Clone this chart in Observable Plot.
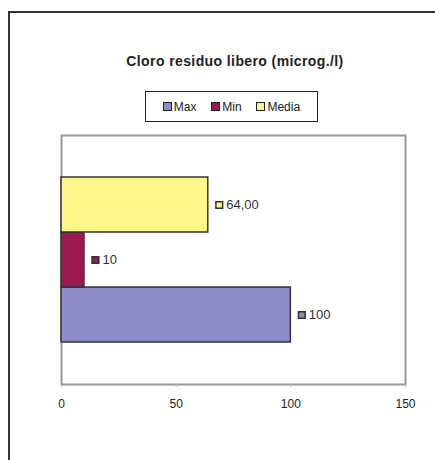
<!DOCTYPE html>
<html>
<head>
<meta charset="utf-8">
<script src="https://cdn.jsdelivr.net/npm/d3@7"></script>
<script src="https://cdn.jsdelivr.net/npm/@observablehq/plot@0.6"></script>
<style>
  html, body { margin: 0; padding: 0; background: #fff; overflow: hidden; }
  body { width: 435px; height: 460px; position: relative; font-family: "Liberation Sans", Arial, sans-serif; }
  #frame { position: absolute; left: 8px; top: 11px; width: 600px; height: 600px;
           border-left: 2px solid #333; border-top: 2px solid #333; box-sizing: border-box; }
  #chart { position: absolute; left: 0; top: 0; }
  #title { position: absolute; left: 0; width: 470px; top: 53px; text-align: center;
           font-weight: bold; font-size: 14px; letter-spacing: 0.4px; color: #222; }
  #legend { position: absolute; left: 145px; top: 91px; width: 173px; height: 31px; box-sizing: border-box;
            border: 1px solid #222; display: flex; align-items: center; justify-content: space-evenly;
            font-size: 12px; color: #222; padding: 0 2px; }
  .item { display: flex; align-items: center; }
  .sw { width: 7px; height: 7px; border: 1px solid #222; margin-right: 2px; }
</style>
</head>
<body>
<div id="frame"></div>
<div id="chart"></div>
<div id="title"></div>
<div id="legend"></div>
<script>
const title = "Cloro residuo libero (microg./l)";
const series = ["Max", "Min", "Media"];
const values = [100, 10, 64];
const valueLabels = ["100", "10", "64,00"];
const colors = ["#8f8bc8", "#9c1850", "#fbf78a"];
const xTicks = [0, 50, 100, 150];

const data = series.map((s, i) => ({series: s, value: values[i], label: valueLabels[i], color: colors[i]}));

const plot = Plot.plot({
  width: 435,
  height: 460,
  marginLeft: 61,
  marginRight: 30,
  marginTop: 135,
  marginBottom: 76,
  style: {fontFamily: "Liberation Sans, Arial, sans-serif", fontSize: "11px", color: "#222", background: "transparent"},
  x: {domain: [0, 150], ticks: xTicks, tickSize: 3, tickPadding: 10, label: null},
  y: {domain: ["Media", "Min", "Max"], paddingInner: 0, paddingOuter: 0.743, axis: null},
  marks: [
    Plot.frame({stroke: "#999", strokeWidth: 2}),
    Plot.barX(data, {x: "value", y: "series", fill: "color", stroke: "#333", strokeWidth: 1.5}),
    Plot.dot(data, {x: "value", y: "series", fill: "color", stroke: "#333", strokeWidth: 1.5, symbol: "square", r: 3.8, dx: 11}),
    Plot.text(data, {x: "value", y: "series", text: "label", dx: 18, textAnchor: "start", fill: "#333", fontSize: 13}),
    Plot.axisX({ticks: xTicks, tickSize: 3, tickPadding: 12, stroke: "#bbb", fill: "#222", fontSize: 12, label: null})
  ]
});
document.getElementById("chart").appendChild(plot);
document.getElementById("title").textContent = title;

const legend = document.getElementById("legend");
series.forEach((s, i) => {
  const item = document.createElement("div");
  item.className = "item";
  const sw = document.createElement("div");
  sw.className = "sw";
  sw.style.background = colors[i];
  item.appendChild(sw);
  item.appendChild(document.createTextNode(s));
  legend.appendChild(item);
});
</script>
</body>
</html>
